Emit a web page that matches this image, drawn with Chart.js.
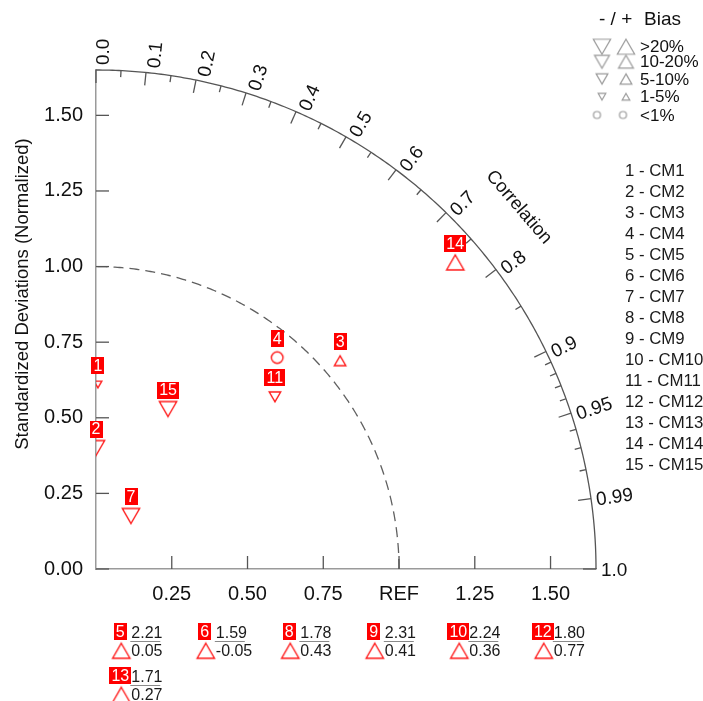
<!DOCTYPE html>
<html>
<head>
<meta charset="utf-8">
<script src="https://cdn.jsdelivr.net/npm/chart.js@4.4.1/dist/chart.umd.min.js"></script>
<style>
  html, body { margin: 0; padding: 0; background: #ffffff; }
  canvas { display: block; }
</style>
</head>
<body>
<canvas id="taylor" width="703" height="701"></canvas>
<script>
// ---- Model statistics (normalized standard deviation, correlation, bias class) ----
const models      = ['CM1','CM2','CM3','CM4','CM5','CM6','CM7','CM8','CM9','CM10','CM11','CM12','CM13','CM14','CM15'];
const stdDev      = [0.61, 0.40, 1.06, 0.92, 2.21, 1.59, 0.21, 1.78, 2.31, 2.24, 0.82, 1.80, 1.71, 1.56, 0.58];
const correlation = [0.01, 0.00, 0.76, 0.65, 0.05, -0.05, 0.55, 0.43, 0.41, 0.36, 0.72, 0.77, 0.27, 0.76, 0.41];
const biasSign    = [-1, -1, 1, 0, 1, 1, -1, 1, 1, 1, -1, 1, 1, 1, -1];
const biasClass   = ['1-5%','>20%','5-10%','<1%','>20%','>20%','>20%','>20%','>20%','>20%','5-10%','>20%','>20%','>20%','>20%'];

// ---- Axis definitions ----
const stdMax      = 1.65;
const corrMajor   = [0.0, 0.1, 0.2, 0.3, 0.4, 0.5, 0.6, 0.7, 0.8, 0.9, 0.95, 0.99, 1.0];
const corrMinor   = [0.05, 0.15, 0.25, 0.35, 0.45, 0.55, 0.65, 0.75, 0.85, 0.91, 0.92, 0.93, 0.94, 0.96, 0.97, 0.98];
const biasLegend  = ['>20%', '10-20%', '5-10%', '1-5%', '<1%'];

const FONT = '"Liberation Sans", Arial, Helvetica, sans-serif';
Chart.defaults.font.family = FONT;

// marker size (circumradius, px) per bias class
const plotSize   = { '>20%': 10, '10-20%': 8.6, '5-10%': 6.6, '1-5%': 4.5, '<1%': 5.8 };
const legendSize = { '>20%': 10, '10-20%': 8.6, '5-10%': 6.8, '1-5%': 4.4, '<1%': 3.5 };

function markerCanvas(shape, r, color, lw) {
  const w = shape === 'circle' ? 2 * r : r * Math.sqrt(3);
  const h = shape === 'circle' ? 2 * r : 1.5 * r;
  const pad = 2;
  const c = document.createElement('canvas');
  c.width = Math.ceil(w + 2 * pad);
  c.height = Math.ceil(h + 2 * pad);
  const g = c.getContext('2d');
  g.strokeStyle = color;
  g.lineWidth = lw;
  const cx = c.width / 2, cy = c.height / 2;
  g.beginPath();
  if (shape === 'circle') {
    g.arc(cx, cy, r, 0, Math.PI * 2);
  } else if (shape === 'up') {
    g.moveTo(cx, cy - h / 2); g.lineTo(cx + w / 2, cy + h / 2); g.lineTo(cx - w / 2, cy + h / 2); g.closePath();
  } else {
    g.moveTo(cx, cy + h / 2); g.lineTo(cx + w / 2, cy - h / 2); g.lineTo(cx - w / 2, cy - h / 2); g.closePath();
  }
  g.stroke();
  return c;
}
function shapeOf(sign, cls) {
  if (cls === '<1%' || sign === 0) return 'circle';
  return sign < 0 ? 'down' : 'up';
}

// split models into those inside the diagram and those listed below it
const allIdx  = models.map((m, i) => i);
const inside  = allIdx.filter(i => stdDev[i] <= stdMax && correlation[i] >= 0);
const outside = allIdx.filter(i => !(stdDev[i] <= stdMax && correlation[i] >= 0));

const points = inside.map(i => ({
  x: stdDev[i] * correlation[i],
  y: stdDev[i] * Math.sqrt(1 - correlation[i] * correlation[i])
}));
const redMarkers = allIdx.map(i => markerCanvas(shapeOf(biasSign[i], biasClass[i]), plotSize[biasClass[i]], '#ff1a1a', 1.4));

function redLabel(ctx, text, cx, cy) {
  ctx.font = '16px ' + FONT;
  const w = Math.round(ctx.measureText(text).width + 4);
  const h = 17;
  ctx.fillStyle = '#ff0000';
  ctx.fillRect(Math.round(cx - w / 2), Math.round(cy - h / 2), w, h);
  ctx.fillStyle = '#ffffff';
  ctx.textAlign = 'center';
  ctx.textBaseline = 'middle';
  ctx.fillText(text, cx, cy + 1);
}

function corrText(c) {
  return (Math.round(c * 100) % 10 === 0) ? c.toFixed(1) : c.toFixed(2);
}

const taylorPlugin = {
  id: 'taylorFrame',
  beforeDatasetsDraw(chart) {
    const ctx = chart.ctx;
    const xs = chart.scales.x, ys = chart.scales.y;
    const P = (r, th) => [xs.getPixelForValue(r * Math.cos(th)), ys.getPixelForValue(r * Math.sin(th))];
    const ox = xs.getPixelForValue(0), oy = ys.getPixelForValue(0);
    ctx.save();

    // outer standard-deviation arc
    ctx.strokeStyle = '#555555';
    ctx.lineWidth = 1.3;
    ctx.beginPath();
    for (let k = 0; k <= 240; k++) {
      const [px, py] = P(stdMax, (Math.PI / 2) * k / 240);
      k === 0 ? ctx.moveTo(px, py) : ctx.lineTo(px, py);
    }
    ctx.stroke();

    // reference arc (std = 1)
    ctx.setLineDash([10, 6]);
    ctx.strokeStyle = '#606060';
    ctx.lineWidth = 1.3;
    ctx.beginPath();
    for (let k = 0; k <= 200; k++) {
      const [px, py] = P(1, (Math.PI / 2) * k / 200);
      k === 0 ? ctx.moveTo(px, py) : ctx.lineTo(px, py);
    }
    ctx.stroke();
    ctx.setLineDash([]);

    // correlation ticks pointing inward
    ctx.strokeStyle = '#555555';
    ctx.lineWidth = 1.3;
    const radialTick = (c, len) => {
      const th = Math.acos(c);
      const [px, py] = P(stdMax, th);
      ctx.beginPath();
      ctx.moveTo(px, py);
      ctx.lineTo(px - len * Math.cos(th), py + len * Math.sin(th));
      ctx.stroke();
    };
    corrMajor.forEach(c => radialTick(c, 13));
    corrMinor.forEach(c => radialTick(c, 6.5));

    // std ticks along both axes, pointing inward
    ys.ticks.forEach(t => {
      const py = ys.getPixelForValue(t.value);
      ctx.beginPath(); ctx.moveTo(ox, py); ctx.lineTo(ox + 13, py); ctx.stroke();
    });
    xs.ticks.forEach(t => {
      if (t.value <= 0) return;
      const px = xs.getPixelForValue(t.value);
      ctx.beginPath(); ctx.moveTo(px, oy); ctx.lineTo(px, oy - 13); ctx.stroke();
    });

    // correlation labels
    ctx.fillStyle = '#111111';
    ctx.font = '19px ' + FONT;
    ctx.textAlign = 'left';
    ctx.textBaseline = 'middle';
    corrMajor.forEach(c => {
      const th = Math.acos(c);
      const [px, py] = P(stdMax, th);
      ctx.save();
      ctx.translate(px + 5 * Math.cos(th), py - 5 * Math.sin(th));
      ctx.rotate(-th);
      ctx.fillText(corrText(c), 0, 1.5 + 6.5 * Math.sin(th));
      ctx.restore();
    });

    // "Correlation" caption along the arc
    {
      const th = 40.6 * Math.PI / 180;
      const [px, py] = P(1.838, th);
      ctx.save();
      ctx.translate(px, py);
      ctx.rotate(Math.PI / 2 - th);
      ctx.font = '18.5px ' + FONT;
      ctx.textAlign = 'center';
      ctx.textBaseline = 'middle';
      ctx.fillText('Correlation', 0, 0);
      ctx.restore();
    }

    // y-axis title
    ctx.save();
    ctx.translate(23, 294);
    ctx.rotate(-Math.PI / 2);
    ctx.font = '18.5px ' + FONT;
    ctx.textAlign = 'center';
    ctx.textBaseline = 'middle';
    ctx.fillText('Standardized Deviations (Normalized)', 0, 0);
    ctx.restore();

    // bias legend
    ctx.fillStyle = '#111111';
    ctx.font = '19px ' + FONT;
    ctx.textAlign = 'left';
    ctx.textBaseline = 'middle';
    ctx.fillText('- / +', 599, 20);
    ctx.fillText('Bias', 644, 20);
    const rowsY = [46.7, 61.7, 79, 96.7, 115];
    ctx.font = '17px ' + FONT;
    biasLegend.forEach((cls, k) => {
      const y = rowsY[k];
      const isCircle = cls === '<1%';
      const left  = markerCanvas(isCircle ? 'circle' : 'down', legendSize[cls], '#9a9a9a', 1.2);
      const right = markerCanvas(isCircle ? 'circle' : 'up',   legendSize[cls], '#9a9a9a', 1.2);
      const lx = isCircle ? 597 : 602, rx = isCircle ? 623 : 626;
      ctx.drawImage(left,  lx - left.width / 2,  y - left.height / 2);
      ctx.drawImage(right, rx - right.width / 2, y - right.height / 2);
      ctx.fillStyle = '#111111';
      ctx.fillText(cls, 640, y + 1);
    });

    // model list
    ctx.font = '16.8px ' + FONT;
    ctx.fillStyle = '#1a1a1a';
    models.forEach((m, i) => {
      ctx.fillText((i + 1) + ' - ' + m, 625, 171.5 + i * 21);
    });

    // models falling outside the diagram
    outside.forEach((i, k) => {
      const col = k % 6, row = Math.floor(k / 6);
      const tx = 121.3 + col * 84.5;
      const dy = row * 44;
      redLabel(ctx, String(i + 1), tx - 1, 631.7 + dy);
      const m = redMarkers[i];
      ctx.drawImage(m, tx - m.width / 2, 650.8 + dy - m.height / 2);
      ctx.font = '16px ' + FONT;
      ctx.fillStyle = '#1a1a1a';
      ctx.textAlign = 'left';
      ctx.textBaseline = 'middle';
      ctx.fillText(stdDev[i].toFixed(2), tx + 10, 633.5 + dy);
      ctx.fillText(correlation[i].toFixed(2), tx + 10, 651.5 + dy);
      ctx.strokeStyle = '#8a8a8a';
      ctx.lineWidth = 1;
      ctx.beginPath();
      ctx.moveTo(tx + 9, 641.5 + dy);
      ctx.lineTo(tx + 39, 641.5 + dy);
      ctx.stroke();
    });

    ctx.restore();
  },
  afterDatasetsDraw(chart) {
    const ctx = chart.ctx;
    const meta = chart.getDatasetMeta(0);
    ctx.save();
    meta.data.forEach((el, k) => {
      redLabel(ctx, String(inside[k] + 1), el.x, el.y - 19);
    });
    ctx.restore();
  }
};

new Chart(document.getElementById('taylor'), {
  type: 'scatter',
  data: {
    datasets: [{
      data: points,
      pointStyle: c => redMarkers[inside[c.dataIndex]],
      pointRadius: 10,
      clip: 0
    }]
  },
  options: {
    responsive: false,
    animation: false,
    devicePixelRatio: 1,
    events: [],
    layout: { padding: { top: 70, right: 107, left: 0, bottom: 0 } },
    plugins: { legend: { display: false }, tooltip: { enabled: false } },
    scales: {
      x: {
        type: 'linear', min: 0, max: stdMax,
        afterFit: s => { s.height = 132; },
        grid: { display: false, drawTicks: false },
        border: { display: true, color: '#9a9a9a', width: 1.5 },
        ticks: {
          stepSize: 0.25, includeBounds: false, padding: 13, autoSkip: false, maxRotation: 0,
          color: '#111111', font: { size: 20 },
          callback: v => (v === 0 ? '' : (Math.abs(v - 1) < 1e-9 ? 'REF' : Number(v).toFixed(2)))
        }
      },
      y: {
        type: 'linear', min: 0, max: stdMax,
        afterFit: s => { s.width = 96; },
        grid: { display: false, drawTicks: false },
        border: { display: true, color: '#9a9a9a', width: 1.5 },
        ticks: {
          stepSize: 0.25, includeBounds: false, padding: 13, autoSkip: false,
          color: '#111111', font: { size: 20 },
          callback: v => Number(v).toFixed(2)
        }
      }
    }
  },
  plugins: [taylorPlugin]
});
</script>
</body>
</html>
